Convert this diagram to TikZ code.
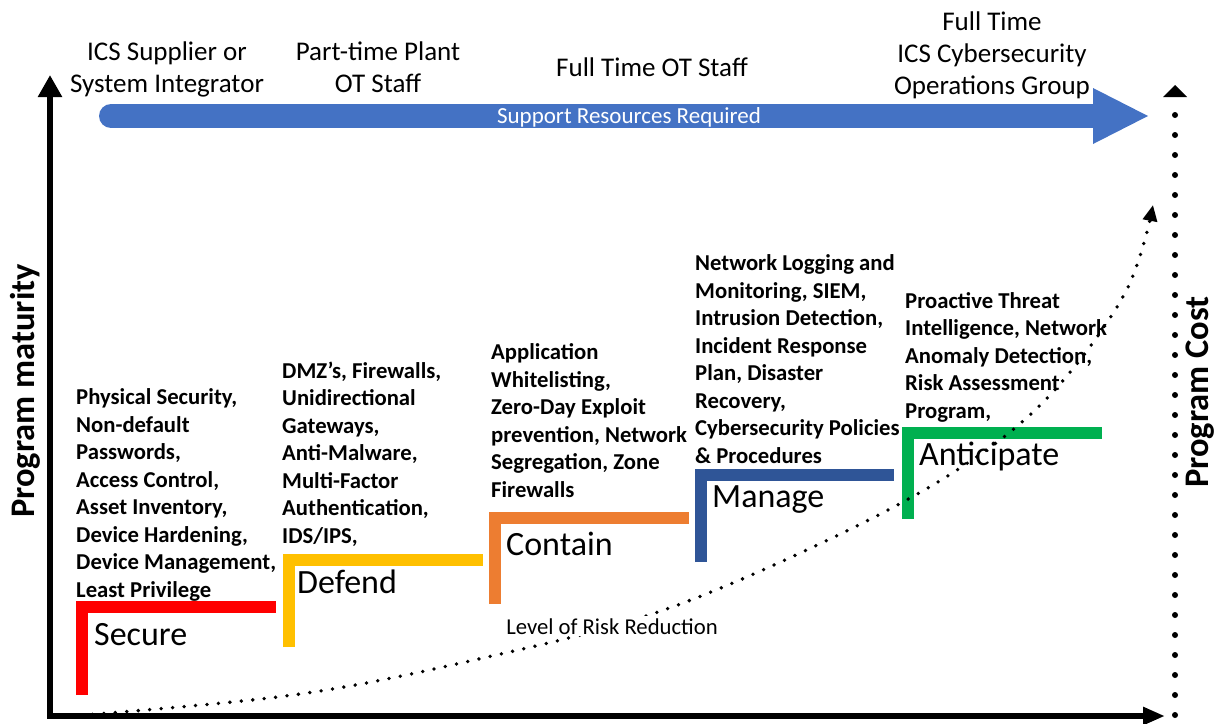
\documentclass[tikz,border=0pt]{standalone}
\usepackage{fontspec}
\setmainfont{Carlito}
\usetikzlibrary{arrows.meta}
\definecolor{cRed}{HTML}{FF0000}
\definecolor{cYellow}{HTML}{FFC000}
\definecolor{cOrange}{HTML}{ED7D31}
\definecolor{cNavy}{HTML}{2F5597}
\definecolor{cGreen}{HTML}{00B050}
\definecolor{cBlue}{HTML}{4472C4}
\tikzset{
  toplbl/.style={font=\fontsize{27}{32}\selectfont, align=center, anchor=base, inner sep=0},
  itemtxt/.style={font=\fontsize{22.7}{27.5}\selectfont\bfseries, align=left, anchor=base west, inner sep=0},
  stagetxt/.style={font=\fontsize{34}{40}\selectfont, anchor=base west, inner sep=0},
  stepbar/.style={line width=12pt, line cap=butt, line join=miter},
  axislbl/.style={font=\fontsize{34.5}{40}\selectfont\bfseries, rotate=90, inner sep=0}
}
\begin{document}
\begin{tikzpicture}[x=1pt,y=-1pt]
\useasboundingbox (0,0) rectangle (1217,723);
% top labels (anchor = baseline of last line)
\node[toplbl] (t1) at (167,92) {ICS Supplier or\\System Integrator};
\node[toplbl] (t2) at (378,92) {Part-time Plant\\OT Staff};
\node[toplbl] (t3) at (652,76) {Full Time OT Staff};
\node[toplbl] (t4) at (992,94) {Full Time\\ICS Cybersecurity\\Operations Group};
% blue arrow
\draw[cBlue, line width=24pt, line cap=round] (111,116) -- (1094,116);
\fill[cBlue] (1093,88) -- (1148,116) -- (1093,144) -- cycle;
\node[font=\fontsize{23}{27}\selectfont, text=white, anchor=base, inner sep=0] (sr) at (629,123) {Support Resources Required};
% axes
\draw[line width=6pt, {Triangle[width=23pt,length=22pt]}-{Triangle[width=17pt,length=22pt]}] (50,75) -- (50,716) -- (1165,716);
\draw[line width=6pt, line cap=round, dash pattern=on 0pt off 20pt] (1175,715) -- (1175,114);
\fill (1163,97) -- (1175,85) -- (1187,97) -- cycle;
\node[axislbl] (pm) at (25,391) {Program maturity};
\node[axislbl] (pc) at (1200,392) {Program Cost};
% steps
\draw[stepbar, cRed] (82,695) -- (82,607) -- (276,607);
\draw[stepbar, cYellow] (289,647) -- (289,560) -- (483,560);
\draw[stepbar, cOrange] (494.5,604) -- (494.5,517.5) -- (689,517.5);
\draw[stepbar, cNavy] (701,562) -- (701,475) -- (894,475);
\draw[stepbar, cGreen] (908,519) -- (908,432.5) -- (1102,432.5);
\node[stagetxt] (s1) at (94,645) {Secure};
\node[stagetxt] (s2) at (297,593) {Defend};
\node[stagetxt] (s3) at (506,555) {Contain};
\node[stagetxt] (s4) at (712,507) {Manage};
\node[stagetxt] (s5) at (919,465) {Anticipate};
% item texts (anchor = baseline of last line)
\node[itemtxt] (i1) at (76,597) {Physical Security,\\Non-default\\Passwords,\\Access Control,\\Asset Inventory,\\Device Hardening,\\Device Management,\\Least Privilege};
\node[itemtxt] (i2) at (282,543) {DMZ’s, Firewalls,\\Unidirectional\\Gateways,\\Anti-Malware,\\Multi-Factor\\Authentication,\\IDS/IPS,};
\node[itemtxt] (i3) at (491,497) {Application\\Whitelisting,\\Zero-Day Exploit\\prevention, Network\\Segregation, Zone\\Firewalls};
\node[itemtxt] (i4) at (695,463) {Network Logging and\\Monitoring, SIEM,\\Intrusion Detection,\\Incident Response\\Plan, Disaster\\Recovery,\\Cybersecurity Policies\\\& Procedures};
\node[itemtxt] (i5) at (905,418) {Proactive Threat\\Intelligence, Network\\Anomaly Detection,\\Risk Assessment\\Program,};
% risk curve
\coordinate (c0) at (58,717);
\coordinate (c9) at (1153,205);
\draw[line width=3.8pt, line cap=round, dash pattern=on 0pt off 11.5pt, -{Triangle[width=14pt,length=16pt]}]
  plot[smooth, tension=0.6] coordinates {(c0) (293,695) (483,658) (658,612) (832,538) (960,468) (1050,395) (1125,293) (c9)};
\node[font=\fontsize{22.7}{26}\selectfont, fill=white, inner sep=2pt, anchor=base] (lr) at (612,634) {Level of Risk Reduction};
\end{tikzpicture}
\end{document}
